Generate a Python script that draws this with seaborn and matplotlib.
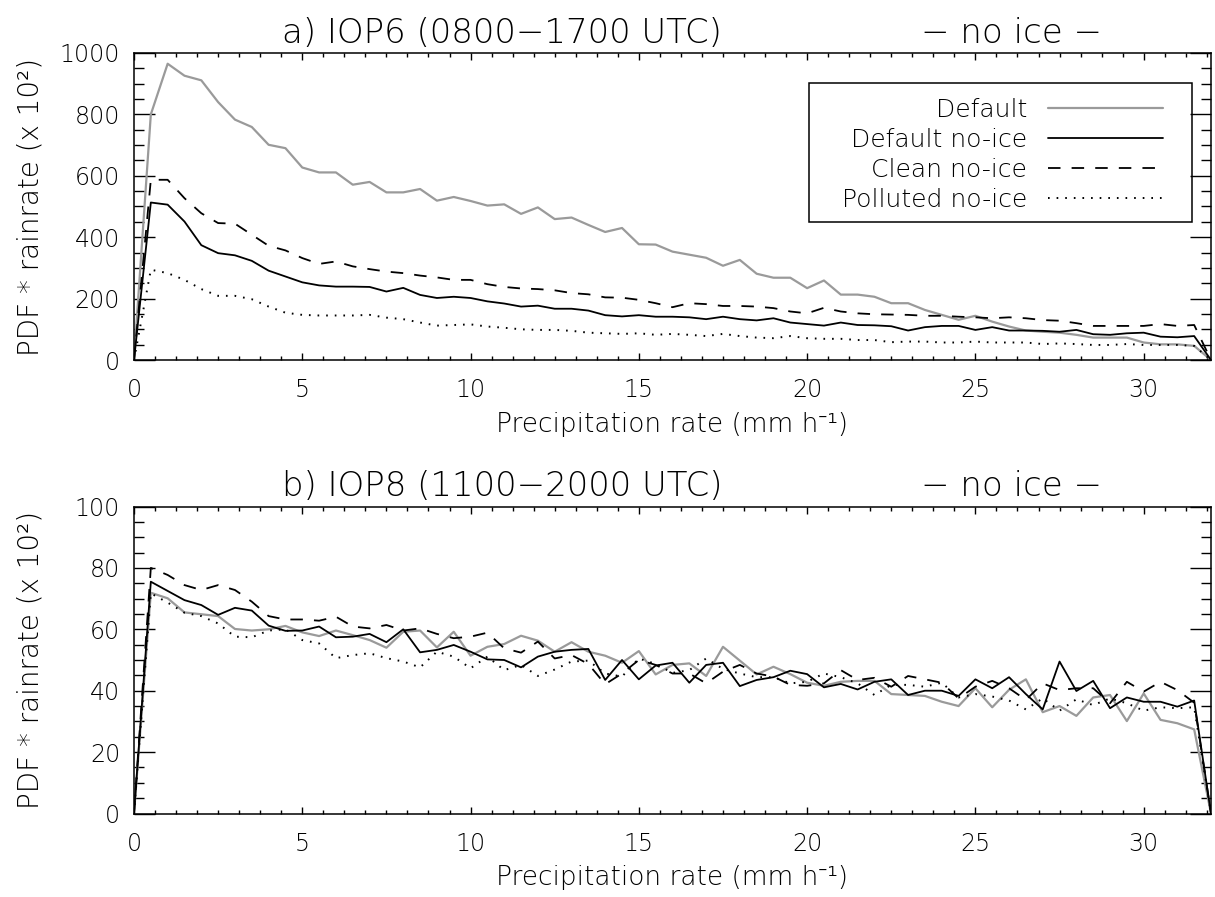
import numpy as np
import pandas as pd
import matplotlib
matplotlib.use("Agg")
import matplotlib.pyplot as plt
from matplotlib.ticker import MultipleLocator
from matplotlib.patches import Rectangle
import seaborn as sns

# ---------------- data ----------------
rain_rate = [0.0, 0.5, 1.0, 1.5, 2.0, 2.5, 3.0, 3.5, 4.0, 4.5, 5.0, 5.5, 6.0, 6.5, 7.0, 7.5,
             8.0, 8.5, 9.0, 9.5, 10.0, 10.5, 11.0, 11.5, 12.0, 12.5, 13.0, 13.5, 14.0, 14.5,
             15.0, 15.5, 16.0, 16.5, 17.0, 17.5, 18.0, 18.5, 19.0, 19.5, 20.0, 20.5, 21.0,
             21.5, 22.0, 22.5, 23.0, 23.5, 24.0, 24.5, 25.0, 25.5, 26.0, 26.5, 27.0, 27.5,
             28.0, 28.5, 29.0, 29.5, 30.0, 30.5, 31.0, 31.5, 32.0]

# panel a) IOP6
a_default = [0, 800, 965, 926, 911, 840, 783, 759, 701, 690, 627, 611, 611, 571, 580, 546,
             546, 557, 519, 531, 518, 503, 507, 476, 497, 459, 464, 440, 417, 430, 377, 376,
             353, 343, 333, 307, 326, 281, 268, 268, 234, 259, 213, 213, 206, 185, 185, 163,
             147, 131, 144, 125, 109, 96, 92, 89, 82, 73, 73, 73, 57, 51, 51, 46, 0]
a_noice = [0, 513, 506, 451, 374, 348, 341, 323, 291, 272, 253, 243, 239, 239, 238, 223,
           235, 212, 202, 206, 202, 191, 184, 174, 177, 167, 167, 161, 146, 142, 146, 141,
           141, 139, 133, 141, 133, 129, 136, 122, 117, 112, 122, 114, 113, 110, 96, 107,
           111, 111, 98, 107, 96, 96, 95, 92, 98, 84, 82, 87, 89, 76, 74, 78, 0]
a_clean = [0, 587, 587, 527, 478, 446, 444, 408, 372, 357, 332, 313, 321, 305, 296, 288,
           283, 275, 269, 261, 261, 247, 238, 233, 231, 227, 218, 214, 204, 203, 196, 185,
           172, 185, 182, 176, 176, 174, 169, 158, 152, 170, 158, 152, 149, 148, 147, 144,
           144, 141, 139, 136, 139, 136, 130, 128, 120, 111, 111, 111, 111, 117, 111, 114, 0]
a_polluted = [0, 294, 283, 261, 231, 209, 209, 198, 174, 154, 147, 145, 145, 145, 147, 138,
              133, 122, 112, 114, 116, 109, 105, 100, 98, 98, 95, 89, 87, 85, 87, 82,
              85, 82, 78, 85, 78, 73, 71, 78, 71, 69, 69, 65, 65, 58, 60, 60,
              57, 57, 60, 57, 57, 57, 52, 54, 52, 49, 49, 52, 49, 49, 49, 46, 0]

# panel b) IOP8
b_default = [0, 71.9, 70.1, 65.5, 64.9, 64.3, 60.1, 59.6, 60.0, 61.1, 59.0, 57.8, 59.6, 58.1,
             56.5, 54.0, 59.2, 59.6, 54.1, 59.2, 51.4, 54.3, 55.2, 57.9, 56.3, 52.7, 55.8,
             52.7, 51.4, 49.1, 52.9, 45.3, 48.4, 48.9, 44.8, 54.3, 49.8, 45.3, 47.8, 45.4,
             42.6, 41.6, 42.9, 43.2, 43.2, 38.9, 38.6, 38.3, 36.4, 35.0, 40.8, 34.6, 40.3,
             43.7, 33.0, 35.0, 31.8, 37.8, 38.6, 30.1, 39.1, 30.5, 29.4, 27.4, 0]
b_noice = [0, 75.5, 72.5, 69.5, 67.9, 64.7, 67.0, 66.1, 61.2, 59.5, 59.6, 60.9, 57.4, 57.6,
           58.5, 55.8, 60.0, 52.5, 53.3, 54.9, 52.7, 50.2, 50.0, 47.6, 51.1, 52.7, 53.3,
           53.6, 43.5, 50.0, 43.7, 48.2, 49.1, 42.6, 48.4, 49.1, 41.5, 43.5, 44.4, 46.5,
           45.4, 41.1, 42.2, 40.4, 42.9, 43.7, 38.6, 40.0, 40.0, 38.3, 43.7, 40.8, 44.4,
           38.9, 33.9, 49.5, 39.9, 43.2, 34.3, 37.8, 36.4, 36.4, 34.8, 36.8, 0]
b_clean = [0, 80.0, 77.7, 74.4, 72.8, 74.4, 72.8, 69.0, 64.3, 63.2, 63.2, 62.8, 64.1, 60.9,
           60.3, 61.4, 59.6, 60.3, 58.5, 57.1, 57.6, 58.9, 53.8, 52.4, 56.0, 50.5, 51.6,
           48.7, 42.1, 45.6, 50.0, 48.4, 45.6, 45.6, 42.4, 46.2, 48.4, 45.6, 44.6, 41.9,
           41.6, 42.4, 46.7, 43.5, 44.2, 41.3, 44.8, 43.7, 42.6, 37.5, 41.3, 43.2, 40.8,
           37.0, 42.4, 40.2, 40.8, 40.8, 35.9, 42.9, 39.7, 42.9, 40.2, 36.1, 0]
b_polluted = [0, 71.7, 68.7, 65.4, 64.3, 61.9, 57.6, 57.4, 59.6, 60.0, 56.5, 55.4, 50.6, 51.6,
              52.2, 50.6, 49.5, 47.6, 52.7, 51.1, 47.3, 51.1, 46.7, 48.4, 44.8, 46.9, 49.5,
              49.8, 45.6, 44.6, 50.5, 48.7, 45.8, 46.7, 50.5, 47.1, 45.6, 44.4, 44.4, 42.4,
              42.9, 45.6, 44.4, 42.4, 38.6, 41.9, 41.9, 41.3, 42.6, 37.8, 38.9, 38.1, 36.8,
              33.9, 37.5, 33.5, 37.2, 35.3, 37.5, 35.9, 33.5, 34.6, 34.3, 34.6, 0]

series_names = ["Default", "Default no-ice", "Clean no-ice", "Polluted no-ice"]
x_ticks = [0, 5, 10, 15, 20, 25, 30]
a_yticks = [0, 200, 400, 600, 800, 1000]
b_yticks = [0, 20, 40, 60, 80, 100]
titles = ["a) IOP6 (0800\u22121700 UTC)", "b) IOP8 (1100\u22122000 UTC)"]
subtitle = "\u2212 no ice \u2212"
xlabel = "Precipitation rate (mm h\u207b\u00b9)"
ylabel = "PDF * rainrate (x 10\u00b2)"

# ---------------- style ----------------
sns.set_theme(style="white")
plt.rcParams["font.family"] = ["DejaVu Sans", "Noto Sans", "Liberation Sans"]
plt.rcParams["font.weight"] = "light"
plt.rcParams["axes.labelweight"] = "light"
plt.rcParams["axes.titleweight"] = "light"
plt.rcParams["lines.scale_dashes"] = False
for key in ["text.color", "axes.labelcolor", "xtick.color", "ytick.color", "axes.edgecolor"]:
    plt.rcParams[key] = "black"

styles = {
    "Default": dict(color="#9a9a9a", lw=1.6, ls="-"),
    "Default no-ice": dict(color="black", lw=1.3, ls="-"),
    "Clean no-ice": dict(color="black", lw=1.3, ls=(0, (9, 8))),
    "Polluted no-ice": dict(color="black", lw=1.4, ls=(0, (1.2, 5.0))),
}

fig = plt.figure(figsize=(12.15, 8.97), dpi=100)
W, H = 1215, 897
ax_left, ax_right = 134, 1211
panels = [
    (53, 360, [a_default, a_noice, a_clean, a_polluted], 1000, a_yticks, 50),
    (506.5, 813.5, [b_default, b_noice, b_clean, b_polluted], 100, b_yticks, 5),
]

FS = 17
for i, (top, bot, data, ymax, yt, ymin) in enumerate(panels):
    ax = fig.add_axes([ax_left / W, 1 - bot / H, (ax_right - ax_left) / W, (bot - top) / H])
    for name, vals in zip(series_names, data):
        df = pd.DataFrame({"x": rain_rate, "y": vals})
        st = styles[name]
        sns.lineplot(data=df, x="x", y="y", ax=ax, color=st["color"], linewidth=st["lw"],
                     linestyle=st["ls"], label=name if i == 0 else None,
                     estimator=None, sort=False)
    ax.set_xlim(0, 32)
    ax.set_ylim(0, ymax)
    ax.set_xticks(x_ticks)
    ax.set_yticks(yt)
    ax.xaxis.set_minor_locator(MultipleLocator(0.625))
    ax.yaxis.set_minor_locator(MultipleLocator(ymin))
    ax.tick_params(axis="x", which="major", direction="in", length=5, width=1.0,
                   top=True, bottom=True, labelsize=FS, pad=13)
    ax.tick_params(axis="x", which="minor", direction="in", length=3, width=1.0,
                   top=True, bottom=True)
    ax.tick_params(axis="y", which="major", direction="in", length=15, width=1.0,
                   left=True, right=True, labelsize=FS, pad=10)
    ax.tick_params(axis="y", which="minor", direction="in", length=7.5, width=1.0,
                   left=True, right=True)
    for sp in ax.spines.values():
        sp.set_color("black")
        sp.set_linewidth(1.1)
    ax.set_xlabel(xlabel, fontsize=19, labelpad=7)
    ax.set_ylabel(ylabel, fontsize=20)
    ax.yaxis.set_label_coords(-0.0829, 0.5)
    ax.text(0.342, 1.0326, titles[i], transform=ax.transAxes, ha="center", va="baseline",
            fontsize=24.5)
    ax.text(0.815, 1.0326, subtitle, transform=ax.transAxes, ha="center", va="baseline",
            fontsize=24.5)
    if i == 0:
        leg = ax.legend(loc="upper right", bbox_to_anchor=(0.9554, 0.8544), markerfirst=False,
                        frameon=False, fontsize=18, handlelength=4.6,
                        handletextpad=0.84, labelspacing=0.24, borderpad=0.0,
                        borderaxespad=0)
        ax.add_patch(Rectangle((0.6267, 0.4495), 0.9824 - 0.6267, 0.9023 - 0.4495,
                               transform=ax.transAxes, fill=False, edgecolor="black",
                               linewidth=1.1, zorder=5))
    else:
        if ax.get_legend() is not None:
            ax.get_legend().remove()

fig.savefig("out.png", dpi=100, facecolor="white")
